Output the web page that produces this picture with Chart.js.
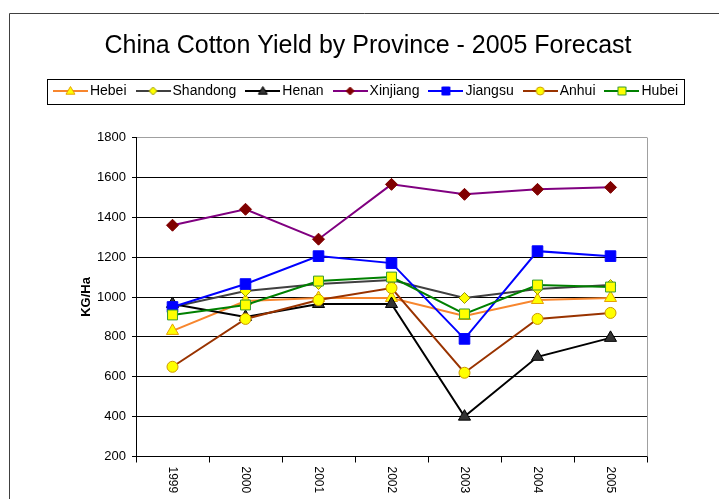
<!DOCTYPE html>
<html>
<head>
<meta charset="utf-8">
<title>China Cotton Yield by Province</title>
<script src="https://cdn.jsdelivr.net/npm/chart.js@4.4.1/dist/chart.umd.min.js"></script>
<style>
  html, body { margin: 0; padding: 0; background: #fff; }
  canvas { display: block; }
</style>
</head>
<body>
<canvas id="yieldChart" width="719" height="499"></canvas>
<script>
// yields in KG/Ha, 2005 is the forecast year
const years = ["1999", "2000", "2001", "2002", "2003", "2004", "2005"];
const hebei    = [830, 980, 995, 995, 905, 985, 995];
const shandong = [950, 1030, 1065, 1085, 995, 1040, 1060];
const henan    = [965, 900, 965, 965, 400, 700, 795];
const xinjiang = [1360, 1440, 1290, 1565, 1515, 1540, 1550];
const jiangsu  = [950, 1065, 1205, 1170, 790, 1230, 1205];
const anhui    = [650, 890, 985, 1045, 620, 890, 920];
const hubei    = [910, 960, 1080, 1100, 915, 1060, 1050];

const yTicks = { min: 200, max: 1800, step: 200 };

Chart.defaults.font.family = 'Arial, "Liberation Sans", sans-serif';
Chart.defaults.color = "#000";

const series = [
  { label: "Hebei",    data: hebei,    line: "#f7862e", fill: "#ffff00", edge: "#e6a000", shape: "triangle", r: 7 },
  { label: "Shandong", data: shandong, line: "#404040", fill: "#ffff00", edge: "#999900", shape: "rectRot",  r: 5.5 },
  { label: "Henan",    data: henan,    line: "#000000", fill: "#333333", edge: "#000000", shape: "triangle", r: 7 },
  { label: "Xinjiang", data: xinjiang, line: "#800080", fill: "#800000", edge: "#800000", shape: "rectRot",  r: 6 },
  { label: "Jiangsu",  data: jiangsu,  line: "#0000ff", fill: "#0000ff", edge: "#0000ff", shape: "rect",     r: 7.5 },
  { label: "Anhui",    data: anhui,    line: "#993300", fill: "#ffff00", edge: "#cc9900", shape: "circle",   r: 5.5 },
  { label: "Hubei",    data: hubei,    line: "#008000", fill: "#ffff00", edge: "#339933", shape: "rect",     r: 7 },
];

// little line-plus-marker swatch for the legend
function makeIcon(s) {
  const c = document.createElement("canvas");
  c.width = 35;
  c.height = 14;
  const g = c.getContext("2d");
  g.strokeStyle = s.line;
  g.lineWidth = 2;
  g.beginPath();
  g.moveTo(0, 7);
  g.lineTo(35, 7);
  g.stroke();

  const cx = 17.5, cy = 7, r = 4;
  g.fillStyle = s.fill;
  g.strokeStyle = s.edge;
  g.lineWidth = 1;
  g.beginPath();
  if (s.shape === "triangle") {
    g.moveTo(cx, cy - r - 0.5);
    g.lineTo(cx + r + 0.5, cy + r * 0.8);
    g.lineTo(cx - r - 0.5, cy + r * 0.8);
    g.closePath();
  } else if (s.shape === "rectRot") {
    g.moveTo(cx, cy - r);
    g.lineTo(cx + r, cy);
    g.lineTo(cx, cy + r);
    g.lineTo(cx - r, cy);
    g.closePath();
  } else if (s.shape === "rect") {
    g.rect(cx - r, cy - r, 2 * r, 2 * r);
  } else {
    g.arc(cx, cy, r, 0, Math.PI * 2);
  }
  g.fill();
  g.stroke();
  return c;
}
const legendIcons = series.map(makeIcon);

const datasets = series.map((s, i) => ({
  label: s.label,
  data: s.data,
  borderColor: s.line,
  backgroundColor: s.fill,
  borderWidth: 2,
  pointStyle: s.shape,
  pointRadius: s.r,
  pointBackgroundColor: s.fill,
  pointBorderColor: s.edge,
  pointBorderWidth: 1,
  tension: 0,
  order: series.length - i, // later series sit on top
}));

// outer frame and white background
const frame = {
  id: "frame",
  beforeDraw(chart) {
    const ctx = chart.ctx;
    ctx.save();
    ctx.fillStyle = "#fff";
    ctx.fillRect(0, 0, chart.width, chart.height);
    ctx.strokeStyle = "#404040";
    ctx.lineWidth = 1;
    ctx.beginPath();
    ctx.moveTo(9.5, chart.height);
    ctx.lineTo(9.5, 13.5);
    ctx.lineTo(chart.width, 13.5);
    ctx.stroke();
    ctx.restore();
  },
};

// grey right edge of the plot area
const plotEdge = {
  id: "plotEdge",
  beforeDatasetsDraw(chart) {
    const a = chart.chartArea, ctx = chart.ctx;
    const x = Math.round(a.right) + 0.5;
    ctx.save();
    ctx.strokeStyle = "#a0a0a0";
    ctx.lineWidth = 1;
    ctx.beginPath();
    ctx.moveTo(x, a.top);
    ctx.lineTo(x, a.bottom);
    ctx.stroke();
    ctx.restore();
  },
};

// year labels turned to read downward, plus the legend border
const extras = {
  id: "extras",
  afterDraw(chart) {
    const ctx = chart.ctx;
    const xs = chart.scales.x;
    ctx.save();
    ctx.font = '12px Arial, "Liberation Sans", sans-serif';
    ctx.fillStyle = "#000";
    ctx.textAlign = "left";
    ctx.textBaseline = "middle";
    chart.data.labels.forEach((label, i) => {
      ctx.save();
      ctx.translate(xs.getPixelForTick(i), xs.top + 10);
      ctx.rotate(Math.PI / 2);
      ctx.fillText(label, 0, 0);
      ctx.restore();
    });

    const lg = chart.legend;
    const hb = lg.legendHitBoxes;
    const last = hb[hb.length - 1];
    const x0 = Math.round(hb[0].left - 11) + 0.5;
    const x1 = Math.round(last.left + last.width + 6) + 0.5;
    const y0 = Math.round(lg.top + 9) + 0.5;
    const y1 = Math.round(lg.top + 34) + 0.5;
    ctx.strokeStyle = "#000";
    ctx.lineWidth = 1;
    ctx.strokeRect(x0, y0, x1 - x0, y1 - y0);
    ctx.restore();
  },
};

new Chart(document.getElementById("yieldChart"), {
  type: "line",
  data: { labels: years, datasets: datasets },
  options: {
    responsive: false,
    animation: false,
    events: [],
    layout: { padding: { left: 17, right: 0, top: 0, bottom: 0 } },
    scales: {
      x: {
        offset: true,
        grid: { offset: true, drawOnChartArea: false, tickLength: 6, color: "#000" },
        border: { color: "#000" },
        ticks: { display: false },
        afterFit: (s) => { s.height = 42.5; },
      },
      y: {
        min: yTicks.min,
        max: yTicks.max,
        ticks: {
          stepSize: yTicks.step,
          padding: 6,
          color: "#000",
          font: { size: 13 },
          callback: (v) => String(v),
        },
        grid: {
          color: (c) => (c.tick && c.tick.value === yTicks.max ? "#a0a0a0" : "#000"),
          tickColor: "#000",
          tickLength: 4,
        },
        border: { color: "#000" },
        title: {
          display: true,
          text: "KG/Ha",
          color: "#000",
          font: { size: 13, weight: "bold" },
          padding: { top: 61.7, bottom: 0 },
        },
        afterFit: (s) => { s.width = 119; },
      },
      y2: {
        position: "right",
        display: true,
        grid: { display: false },
        border: { display: false },
        ticks: { display: false },
        afterFit: (s) => { s.width = 72; },
      },
    },
    plugins: {
      title: {
        display: true,
        text: "China Cotton Yield by Province - 2005 Forecast",
        color: "#000",
        font: { size: 25, weight: "normal", lineHeight: 1.2 },
        padding: { top: 31, bottom: 9 },
      },
      legend: {
        display: true,
        position: "top",
        labels: {
          usePointStyle: true,
          pointStyleWidth: 25,
          padding: 14,
          color: "#000",
          font: { size: 14 },
          generateLabels(chart) {
            const items = Chart.defaults.plugins.legend.labels.generateLabels(chart);
            items.sort((a, b) => a.datasetIndex - b.datasetIndex);
            items.forEach((it) => { it.pointStyle = legendIcons[it.datasetIndex]; });
            return items;
          },
        },
      },
      // empty block that leaves room between the legend and the plot
      subtitle: {
        display: true,
        text: "",
        weight: 500,
        padding: 0,
        font: { size: 29.5, lineHeight: 1 },
      },
      tooltip: { enabled: false },
    },
  },
  plugins: [frame, plotEdge, extras],
});
</script>
</body>
</html>
